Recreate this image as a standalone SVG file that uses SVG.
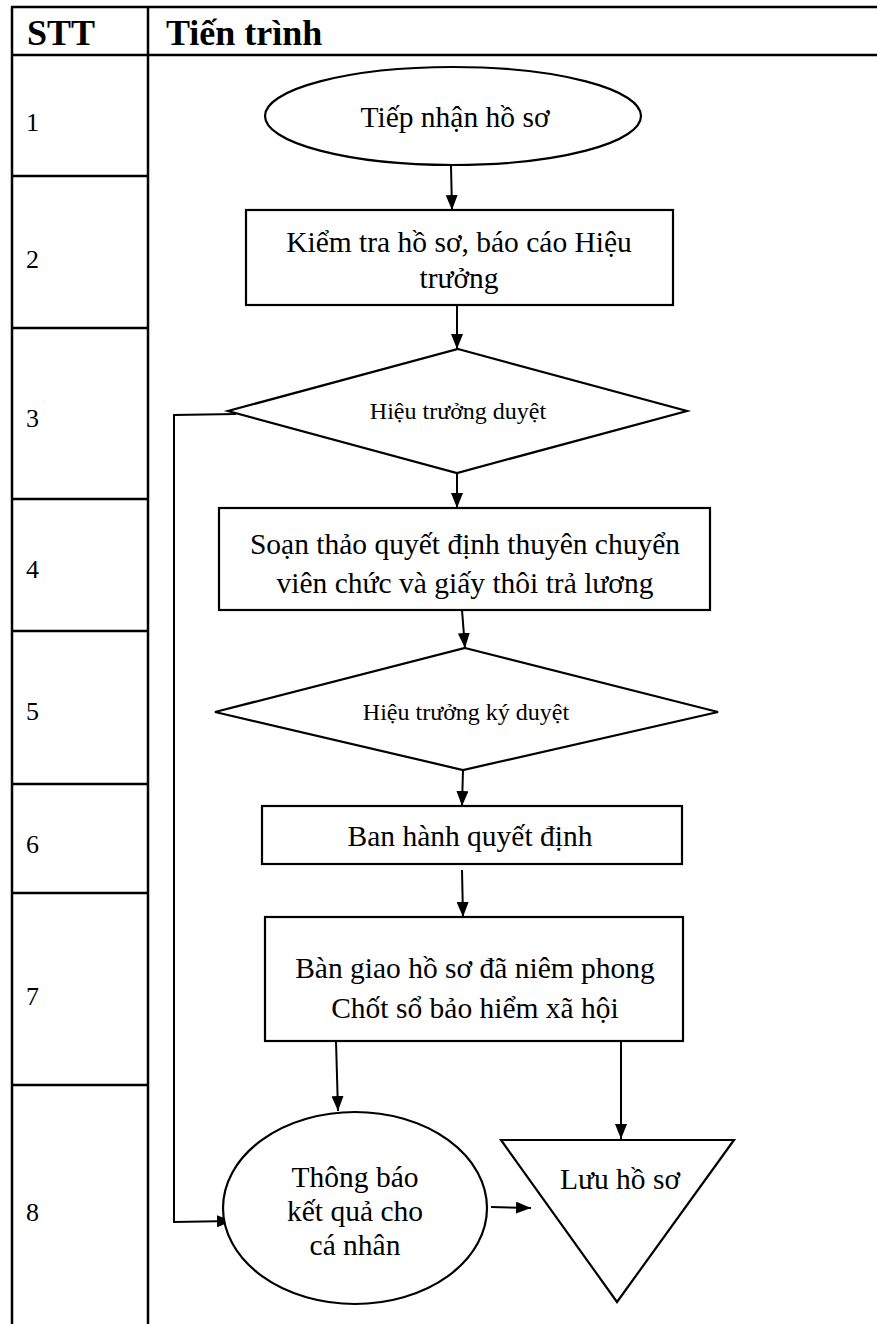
<svg xmlns="http://www.w3.org/2000/svg" width="877" height="1324" viewBox="0 0 877 1324">
<style>
text{font-family:"Liberation Serif","Tinos","Times New Roman","DejaVu Serif",serif;fill:#000}
.tbl{stroke:#000;stroke-width:2.5;fill:none}
.shape{fill:#fff;stroke:#000;stroke-width:2.2}
.con{stroke:#000;stroke-width:2;fill:none}
.hd{font-weight:bold;font-size:36px}
.num{font-size:26px}
.t{font-size:29.5px;text-anchor:middle}
.ts{font-size:24px;text-anchor:middle}
</style>
<defs>
<marker id="arr" viewBox="0 0 15 12" refX="15" refY="6" markerWidth="15" markerHeight="12" markerUnits="userSpaceOnUse" orient="auto">
<path d="M0,0 L15,6 L0,12 z" fill="#000"/>
</marker>
</defs>
<rect width="877" height="1324" fill="#fff"/>
<g id="table">
<line class="tbl" x1="11" y1="7" x2="877" y2="7"/>
<line class="tbl" x1="11" y1="55" x2="877" y2="55"/>
<line class="tbl" x1="12" y1="7" x2="12" y2="1324"/>
<line class="tbl" x1="148" y1="7" x2="148" y2="1324"/>
<line class="tbl" x1="12" y1="176" x2="148" y2="176"/>
<line class="tbl" x1="12" y1="328" x2="148" y2="328"/>
<line class="tbl" x1="12" y1="499" x2="148" y2="499"/>
<line class="tbl" x1="12" y1="631" x2="148" y2="631"/>
<line class="tbl" x1="12" y1="784" x2="148" y2="784"/>
<line class="tbl" x1="12" y1="893" x2="148" y2="893"/>
<line class="tbl" x1="12" y1="1085" x2="148" y2="1085"/>
<text class="hd" x="27" y="45">STT</text>
<text class="hd" x="166" y="45">Tiến trình</text>
<text class="num" x="26" y="131">1</text>
<text class="num" x="26" y="268">2</text>
<text class="num" x="26" y="427">3</text>
<text class="num" x="26" y="578">4</text>
<text class="num" x="26" y="720">5</text>
<text class="num" x="26" y="853">6</text>
<text class="num" x="26" y="1005">7</text>
<text class="num" x="26" y="1221">8</text>
</g>
<g id="connectors">
<line class="con" x1="451" y1="166" x2="452" y2="210" marker-end="url(#arr)"/>
<line class="con" x1="457" y1="305" x2="457" y2="349" marker-end="url(#arr)"/>
<line class="con" x1="457" y1="473" x2="457" y2="508" marker-end="url(#arr)"/>
<line class="con" x1="462" y1="610" x2="465" y2="648" marker-end="url(#arr)"/>
<line class="con" x1="463" y1="770" x2="462" y2="806" marker-end="url(#arr)"/>
<line class="con" x1="462" y1="870" x2="463" y2="917" marker-end="url(#arr)"/>
<line class="con" x1="336" y1="1041" x2="338" y2="1111" marker-end="url(#arr)"/>
<line class="con" x1="621" y1="1041" x2="621" y2="1139" marker-end="url(#arr)"/>
<line class="con" x1="491" y1="1207" x2="531" y2="1208" marker-end="url(#arr)"/>
<polyline class="con" points="236,414 174,415 174,1222 232,1221" marker-end="url(#arr)"/>
</g>
<g id="n1">
<ellipse class="shape" cx="453" cy="116" rx="188" ry="49"/>
<text class="t" x="455" y="127">Tiếp nhận hồ sơ</text>
</g>
<g id="n2">
<rect class="shape" x="246" y="210" width="427" height="95"/>
<text class="t" x="459" y="252">Kiểm tra hồ sơ, báo cáo Hiệu</text>
<text class="t" x="459" y="288">trưởng</text>
</g>
<g id="n3">
<polygon class="shape" points="458,349 687,411 457,473 228,411"/>
<text class="ts" x="458" y="419">Hiệu trưởng duyệt</text>
</g>
<g id="n4">
<rect class="shape" x="219" y="508" width="491" height="102"/>
<text class="t" x="465" y="554">Soạn thảo quyết định thuyên chuyển</text>
<text class="t" x="465" y="593">viên chức và giấy thôi trả lương</text>
</g>
<g id="n5">
<polygon class="shape" points="465,648 718,712 463,770 215,712"/>
<text class="ts" x="466" y="720">Hiệu trưởng ký duyệt</text>
</g>
<g id="n6">
<rect class="shape" x="262" y="806" width="420" height="58"/>
<text class="t" x="470" y="846">Ban hành quyết định</text>
</g>
<g id="n7">
<rect class="shape" x="265" y="917" width="418" height="124"/>
<text class="t" x="475" y="978">Bàn giao hồ sơ đã niêm phong</text>
<text class="t" x="475" y="1018">Chốt sổ bảo hiểm xã hội</text>
</g>
<g id="n8">
<ellipse class="shape" cx="355" cy="1208" rx="132" ry="96"/>
<text class="t" x="355" y="1187">Thông báo</text>
<text class="t" x="355" y="1221">kết quả cho</text>
<text class="t" x="355" y="1255">cá nhân</text>
</g>
<g id="n9">
<polygon class="shape" points="501,1140 734,1140 617,1302"/>
<text class="t" x="620" y="1189">Lưu hồ sơ</text>
</g>
</svg>
